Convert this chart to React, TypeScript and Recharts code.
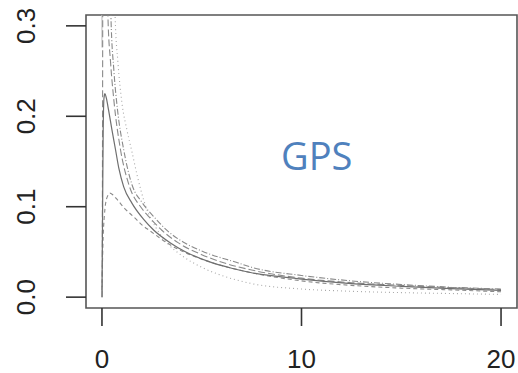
import React from 'react';
import { LineChart, Line, XAxis, YAxis, ReferenceArea } from 'recharts';

// ---- axis ticks ----
const xTicks = [0, 10, 20];
const yTicks = [0, 0.1, 0.2, 0.3];
const yTickLabels = ['0.0', '0.1', '0.2', '0.3'];
const xDomain: [number, number] = [-0.8, 20.8];
const yDomain: [number, number] = [-0.012, 0.312];
const overlayLabel = 'GPS';

// ---- series ----
// solid curve
const solidX = [0, 0.03, 0.06, 0.1, 0.15, 0.22, 0.33, 0.5, 0.68, 0.85, 1.09, 1.5, 2.09, 2.6, 3.43, 4.2, 5.4, 6.5, 7.5, 10, 12.5, 15, 17.5, 20];
const solidY = [0.0, 0.09, 0.18, 0.22, 0.225, 0.22, 0.207, 0.185, 0.163, 0.142, 0.122, 0.104, 0.086, 0.074, 0.06, 0.05, 0.039, 0.032, 0.027, 0.02, 0.015, 0.012, 0.0095, 0.0075];
// long-dash curve (rises at 0, comes down from the top)
const longDashX = [0.01, 0.03, 0.05, 0.25, 0.3, 0.43, 0.6, 0.93, 1.34, 2, 2.43, 3, 3.83, 5, 6.1, 7.5, 10, 12.5, 15, 17.5, 20];
const longDashY = [0.0, 0.2, 0.45, 0.45, 0.31, 0.26, 0.217, 0.163, 0.125, 0.098, 0.087, 0.074, 0.06, 0.047, 0.038, 0.03, 0.021, 0.016, 0.013, 0.0105, 0.0085];
// dot-dash curve
const dotDashX = [0.35, 0.45, 0.6, 0.78, 1.09, 1.51, 2, 2.68, 3.3, 4.18, 5, 6.8, 7.5, 10, 12.5, 15, 17.5, 20];
const dotDashY = [0.5, 0.31, 0.25, 0.207, 0.163, 0.124, 0.105, 0.087, 0.073, 0.0596, 0.051, 0.038, 0.033, 0.024, 0.018, 0.014, 0.011, 0.009];
// dotted curve
const dottedX = [0.5, 0.66, 0.8, 1.0, 1.25, 1.51, 1.76, 2.2, 2.7, 3.26, 4, 5, 6, 7.5, 10, 12.5, 15, 17.5, 20];
const dottedY = [0.5, 0.31, 0.26, 0.215, 0.185, 0.16, 0.135, 0.1, 0.077, 0.06, 0.046, 0.033, 0.024, 0.015, 0.009, 0.0065, 0.005, 0.004, 0.003];
// lower dashed curve
const dashX = [0, 0.05, 0.12, 0.25, 0.4, 0.55, 0.76, 1.1, 1.58, 2, 2.43, 3.26, 4, 5, 6, 7.5, 10, 12.5, 15, 17.5, 20];
const dashY = [0.008, 0.06, 0.09, 0.11, 0.115, 0.113, 0.108, 0.099, 0.089, 0.08, 0.073, 0.06, 0.051, 0.042, 0.035, 0.027, 0.018, 0.013, 0.01, 0.008, 0.006];
// short light solid segment at x = 0
const spikeX = [0, 0];
const spikeY = [0.276, 0.33];

const toPoints = (xs: number[], ys: number[]) => xs.map((x, i) => ({ x, y: ys[i] }));

const FONT = '"Liberation Sans", Arial, Helvetica, sans-serif';

const YTick = (props: any) => {
  const { x, y, payload } = props;
  const idx = yTicks.indexOf(payload.value);
  const label = idx >= 0 ? yTickLabels[idx] : String(payload.value);
  const bx = x - 31;
  return (
    <text
      x={bx}
      y={y}
      transform={`rotate(-90 ${bx} ${y})`}
      textAnchor="middle"
      fontFamily={FONT}
      fontSize={26}
      fill="#222"
    >
      {label}
    </text>
  );
};

const XTick = (props: any) => {
  const { x, y, payload } = props;
  return (
    <text x={x} y={y + 42} textAnchor="middle" fontFamily={FONT} fontSize={26} fill="#222">
      {String(payload.value)}
    </text>
  );
};

export default function App() {
  return (
    <div style={{ position: 'absolute', left: 0, top: 0, width: 518, height: 373, background: '#fff' }}>
      <LineChart width={518} height={373} margin={{ top: 15, right: 1, bottom: 0, left: 0 }}>
        <XAxis
          dataKey="x"
          type="number"
          domain={xDomain}
          allowDataOverflow
          ticks={xTicks}
          tick={<XTick />}
          tickSize={18}
          tickMargin={0}
          height={65}
          axisLine={false}
          tickLine={{ stroke: '#333', strokeWidth: 1.6 }}
        />
        <YAxis
          type="number"
          domain={yDomain}
          allowDataOverflow
          ticks={yTicks}
          tick={<YTick />}
          tickSize={20}
          tickMargin={0}
          width={86}
          axisLine={false}
          tickLine={{ stroke: '#333', strokeWidth: 1.6 }}
        />
        <ReferenceArea
          x1={xDomain[0]}
          x2={xDomain[1]}
          y1={yDomain[0]}
          y2={yDomain[1]}
          fill="none"
          fillOpacity={0}
          stroke="#555"
          strokeWidth={1.6}
          ifOverflow="visible"
        />
        <Line data={toPoints(spikeX, spikeY)} dataKey="y" stroke="#c4c4c4" strokeWidth={1.2} dot={false} isAnimationActive={false} />
        <Line type="monotone" data={toPoints(dashX, dashY)} dataKey="y" stroke="#8a8a8a" strokeWidth={1.1} strokeDasharray="4 3" dot={false} isAnimationActive={false} />
        <Line type="monotone" data={toPoints(dottedX, dottedY)} dataKey="y" stroke="#a8a8a8" strokeWidth={1.1} strokeDasharray="1 3" dot={false} isAnimationActive={false} />
        <Line type="monotone" data={toPoints(dotDashX, dotDashY)} dataKey="y" stroke="#8a8a8a" strokeWidth={1.1} strokeDasharray="6 2 1 2" dot={false} isAnimationActive={false} />
        <Line type="monotone" data={toPoints(longDashX, longDashY)} dataKey="y" stroke="#8a8a8a" strokeWidth={1.1} strokeDasharray="7 3" dot={false} isAnimationActive={false} />
        <Line type="monotone" data={toPoints(solidX, solidY)} dataKey="y" stroke="#6e6e6e" strokeWidth={1.2} dot={false} isAnimationActive={false} />
      </LineChart>
      <svg width={518} height={373} style={{ position: 'absolute', left: 0, top: 0, pointerEvents: 'none' }}>
        <text x={281} y={170} fontFamily='"Open Sans", Lato, sans-serif' fontSize={38} fill="#4F81BD">
          {overlayLabel}
        </text>
      </svg>
    </div>
  );
}
